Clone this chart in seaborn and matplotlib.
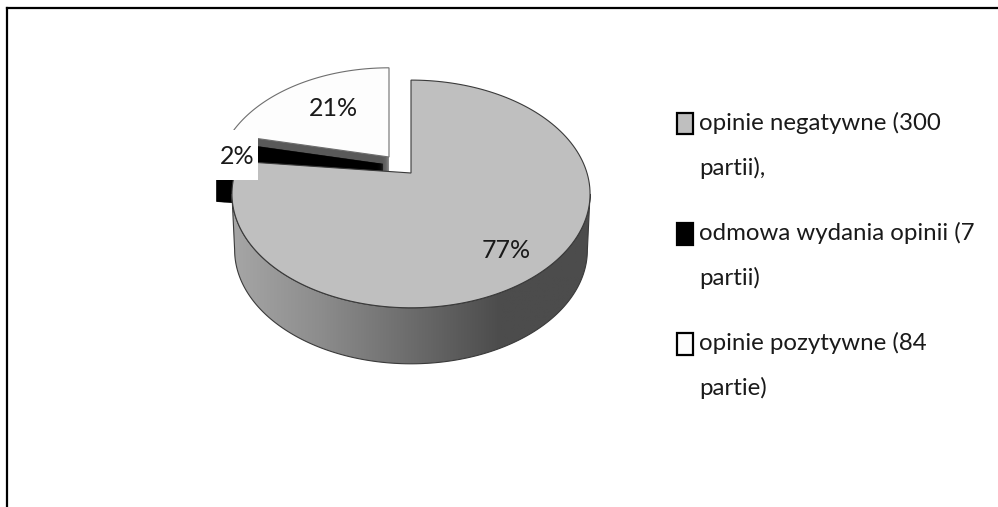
import numpy as np
import matplotlib
matplotlib.use("Agg")
import matplotlib.pyplot as plt
from matplotlib.patches import Polygon, Rectangle, Patch
from matplotlib.colors import LinearSegmentedColormap
from matplotlib.legend_handler import HandlerPatch
import seaborn as sns

labels = ["opinie negatywne (300\npartii),", "odmowa wydania opinii (7\npartii)", "opinie pozytywne (84\npartie)"]
values = [300, 7, 84]
colors = ["#bfbfbf", "#000000", "#fdfdfd"]
wall_shades = ["#a6a6a6", "#8c8c8c", "#6c6c6c", "#4c4c4c", "#4c4c4c"]

sns.set_theme(style="white")
FONT = ["Lato", "Open Sans", "DejaVu Sans"]
plt.rcParams["font.family"] = FONT

W, H = 998, 507
fig = plt.figure(figsize=(W / 100, H / 100), dpi=100, facecolor="white")
X0, Y0 = 7, 8
ax = fig.add_axes([X0 / W, 0, 1 - X0 / W, 1 - Y0 / H])

wedges, _ = ax.pie(values, startangle=90, counterclock=False, colors=colors)
spans = [(w.theta1, w.theta2) for w in wedges]
for w in wedges:
    w.remove()

ax.set_aspect("auto")
ax.set_xlim(X0, W)
ax.set_ylim(H, Y0)
ax.set_xticks([])
ax.set_yticks([])
ax.set_frame_on(True)
ax.axis("on")
for side, sp in ax.spines.items():
    sp.set_visible(side in ("left", "top"))
    sp.set_color("black")
    sp.set_linewidth(1.6)

# perspective projection of the unit pie
A, B, C = 176.0, 110.0, 0.184


def project(x, y, ox, oy, k=1.0):
    d = 1 + C * y
    return np.column_stack([ox + k * A * x / d, oy - k * B * y / d])


def arc(t1, t2, ox, oy, k=1.0, n=160):
    t = np.radians(np.linspace(t1, t2, n))
    return project(np.cos(t), np.sin(t), ox, oy, k)


def wedge_poly(t1, t2, ox, oy, k=1.0):
    return np.vstack([[ox, oy], arc(t1, t2, ox, oy, k)])


LW = 0.8
(g1, g2), (b1, b2), (w1, w2) = spans
GX, GY = 411, 173
WX, WY = 389, 157

# black slice: dark inner wall, then black body swept downward
for (ox, oy, depth, col, k) in [(WX, WY, 16, "#595959", 0.97), (383, 164, 49, colors[1], 0.97)]:
    base = wedge_poly(b1, b2, ox, oy, k)
    for d in np.linspace(depth, 0, int(depth * 2) + 1):
        ax.add_patch(Polygon(base + [0, d], closed=True, fc=col, ec=col, lw=0.3, zorder=2))

# white slice
ax.add_patch(Polygon(wedge_poly(w1, w2, WX, WY, 0.96), closed=True, fc=colors[2], ec="#6e6e6e", lw=LW, zorder=3))

# grey slice wall with gradient
ymin = -C
xmax = np.sqrt(1 - C ** 2)
ang_r = np.degrees(np.arctan2(ymin, xmax))
ang_l = np.degrees(np.arctan2(ymin, -xmax))
front = arc(ang_l, ang_r, GX, GY)
low = front.copy()
low[:, 0] = GX + (low[:, 0] - GX) * 0.985
low[:, 1] += 56
wall = Polygon(np.vstack([front, low[::-1]]), closed=True, fc="none", ec="#3a3a3a", lw=LW, zorder=4)
ax.add_patch(wall)
cmap = LinearSegmentedColormap.from_list("wall", wall_shades)
img = ax.imshow(np.linspace(0, 1, 256)[None, :], cmap=cmap, aspect="auto",
                extent=(232, 590, 364, 190), zorder=3.5)
img.set_clip_path(wall)
ax.set_xlim(X0, W)
ax.set_ylim(H, Y0)

# grey slice top
ax.add_patch(Polygon(wedge_poly(g1, g2, GX, GY), closed=True, fc=colors[0], ec="#3a3a3a", lw=LW, zorder=5))

# percent labels
total = sum(values)
pct = [f"{round(100 * v / total)}%" for v in values]
TXT = "#1a1a1a"
ax.text(506, 250, pct[0], ha="center", va="center", fontsize=18, color=TXT, zorder=7)
ax.text(333, 108, pct[2], ha="center", va="center", fontsize=18, color=TXT, zorder=7)
ax.add_patch(Rectangle((215, 130), 43, 50, fc="white", ec="none", zorder=6))
ax.text(237, 157, pct[1], ha="center", va="center", fontsize=18, color=TXT, zorder=7)


# legend
def swatch(legend, orig_handle, xdescent, ydescent, width, height, fontsize):
    return Rectangle((-xdescent, height - 15.8 + 16.5), 11.5, 15.8)


handles = [Patch(fc=c, ec="black", lw=1.6) for c in colors]
leg = ax.legend(handles, labels, loc="upper left", bbox_to_anchor=((677 - X0 - 5) / (W - X0), 1 - (107 - Y0) / (H - Y0)),
                frameon=False, fontsize=17.3, handlelength=0.66, handleheight=0.8, handletextpad=0.28,
                labelspacing=1.8, borderpad=0.2, borderaxespad=0,
                handler_map={Patch: HandlerPatch(patch_func=swatch)})
for t in leg.get_texts():
    t.set_linespacing(2.26)
    t.set_color(TXT)

fig.savefig("out.png", dpi=100)
